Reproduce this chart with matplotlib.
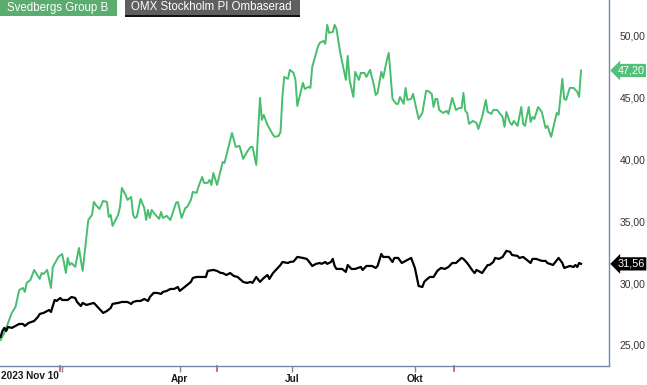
import matplotlib.pyplot as plt
import matplotlib.transforms as mtransforms
from matplotlib.patches import Rectangle

plt.rcParams['font.family'] = ['Liberation Sans', 'DejaVu Sans']

# trading-day index (0 = 2023 Nov 10) and closing values
green_days = [0, 2, 4, 6, 8, 10, 12, 13, 14, 16, 18, 19, 21, 22, 23, 25, 26, 27, 28, 31,
              33, 34, 35, 36, 37, 38, 40, 42, 43, 44, 47, 49, 50, 51, 53, 55, 57, 58, 59, 60,
              63, 64, 65, 67, 68, 70, 71, 72, 73, 75, 77, 78, 79, 80, 81, 83, 85, 86, 87, 89,
              91, 94, 95, 97, 99, 100, 102, 103, 105, 106, 108, 109, 111, 112, 113, 114, 116, 119, 120, 124,
              125, 126, 128, 130, 132, 134, 135, 137, 139, 140, 141, 143, 146, 147, 149, 150, 151, 152, 154, 155,
              157, 158, 159, 162, 163, 165, 166, 167, 170, 171, 173, 174, 175, 176, 178, 179, 180, 182, 185, 186,
              187, 189, 190, 192, 193, 195, 196, 198, 200, 201, 202, 204, 205, 207, 208, 210, 212, 213, 214, 216,
              217, 218, 220, 221, 224, 226, 228, 229, 231, 232, 233, 234, 235, 237, 239, 240, 242, 244, 246, 247,
              248, 249, 250, 251, 253, 255, 256, 258, 260, 261, 263, 264, 266, 269, 270, 271, 273, 274, 275, 277,
              279, 280, 281, 283, 284, 285, 286, 288, 290, 292, 293, 295, 298, 299, 301, 302, 303, 305, 307, 309,
              310, 311]
green_vals = [25.40, 25.97, 26.78, 27.59, 28.07, 29.45, 29.61, 29.29, 30.02, 30.26, 31.07, 30.82, 30.34, 30.82, 30.74, 31.07, 30.34, 29.61, 31.31, 32.12,
              32.36, 31.63, 30.82, 32.04, 31.47, 31.63, 31.31, 32.85, 31.88, 30.99, 35.11, 35.52, 36.57, 36.33, 36.00, 36.65, 36.57, 35.35, 35.52, 34.63,
              35.52, 36.16, 37.70, 37.13, 36.73, 36.97, 35.52, 35.27, 35.35, 36.81, 36.08, 35.11, 35.92, 35.27, 35.92, 35.52, 35.20, 35.76, 35.27, 35.44,
              35.11, 36.49, 36.57, 35.27, 36.08, 36.16, 36.73, 37.38, 37.30, 37.78, 38.59, 38.11, 38.11, 38.35, 37.94, 38.91, 37.94, 39.80, 39.72, 42.15,
              41.58, 41.02, 41.10, 40.05, 40.61, 41.02, 41.02, 39.56, 44.98, 43.20, 43.61, 42.80, 41.99, 41.83, 41.91, 42.23, 45.06, 46.68, 46.52, 47.25,
              47.00, 46.44, 44.33, 46.20, 45.71, 45.87, 45.79, 47.49, 49.11, 49.43, 49.59, 49.35, 50.89, 50.24, 50.32, 50.89, 50.56, 48.62, 46.44, 48.38,
              46.44, 45.06, 47.09, 46.44, 47.00, 47.00, 46.68, 47.25, 46.03, 45.22, 45.39, 47.09, 46.60, 48.06, 48.62, 44.90, 44.50, 44.50, 45.06, 44.50,
              45.79, 44.82, 44.90, 45.31, 43.28, 43.77, 45.55, 45.55, 45.31, 44.25, 44.90, 44.90, 44.01, 43.77, 43.93, 43.69, 44.98, 44.01, 44.17, 44.17,
              45.39, 43.93, 43.77, 42.88, 43.12, 42.96, 42.47, 43.44, 44.82, 43.85, 43.69, 44.01, 44.01, 43.44, 42.64, 43.85, 42.96, 42.80, 43.12, 42.72,
              44.25, 42.88, 42.72, 44.25, 43.04, 43.44, 43.28, 44.25, 43.85, 42.55, 42.72, 41.83, 43.77, 43.61, 46.52, 44.90, 44.82, 45.79, 45.79, 45.47,
              45.06, 47.20]

black_days = [0, 1, 2, 3, 4, 6, 8, 10, 12, 13, 15, 18, 20, 21, 23, 25, 26, 27, 29, 30,
              32, 33, 36, 38, 40, 41, 43, 44, 46, 48, 50, 52, 54, 55, 57, 59, 60, 63, 65, 68,
              70, 71, 73, 75, 77, 79, 80, 82, 84, 86, 87, 89, 91, 93, 95, 96, 98, 100, 102, 103,
              105, 107, 109, 110, 111, 114, 116, 118, 119, 121, 123, 125, 127, 130, 132, 134, 135, 137, 139, 141,
              143, 144, 146, 148, 150, 151, 154, 155, 157, 159, 162, 164, 165, 167, 169, 171, 172, 174, 175, 177,
              178, 179, 180, 183, 185, 186, 188, 190, 193, 194, 196, 199, 201, 202, 204, 205, 208, 210, 211, 213,
              215, 217, 218, 220, 222, 224, 226, 227, 228, 230, 232, 234, 236, 238, 240, 242, 244, 247, 248, 250,
              253, 254, 255, 258, 261, 262, 264, 265, 267, 269, 271, 273, 274, 277, 278, 280, 282, 284, 285, 287,
              290, 292, 293, 296, 299, 301, 302, 305, 307, 308, 309, 310, 311]
black_vals = [25.65, 26.13, 26.38, 26.13, 26.46, 26.38, 26.54, 26.70, 26.70, 26.54, 26.78, 26.94, 27.27, 27.51, 27.59, 27.75, 27.83, 27.67, 28.64, 28.56,
              28.80, 28.64, 28.64, 28.88, 28.80, 28.48, 28.15, 28.40, 28.24, 28.32, 28.40, 28.07, 27.75, 27.59, 27.75, 27.99, 28.32, 28.40, 28.48, 28.48,
              28.32, 28.48, 28.56, 28.56, 28.72, 28.56, 28.88, 29.21, 29.21, 29.13, 29.29, 29.37, 29.53, 29.53, 29.69, 29.37, 29.61, 29.85, 30.10, 30.42,
              30.50, 30.50, 30.50, 30.50, 30.99, 31.07, 30.99, 30.82, 30.82, 30.66, 30.82, 30.58, 30.50, 30.10, 30.02, 30.10, 30.02, 30.50, 30.10, 30.42,
              30.66, 30.34, 30.82, 31.15, 31.47, 31.71, 31.63, 31.71, 31.75, 32.12, 32.04, 31.96, 31.80, 31.39, 31.56, 31.63, 31.56, 31.71, 31.56, 31.71,
              31.96, 31.39, 31.15, 31.15, 30.91, 31.47, 31.15, 31.15, 31.31, 31.07, 31.39, 31.39, 31.23, 31.39, 32.36, 32.12, 32.12, 31.71, 32.04, 32.04,
              31.63, 31.80, 31.88, 32.04, 31.23, 29.77, 29.69, 30.10, 30.26, 30.50, 30.50, 30.99, 31.23, 31.15, 31.31, 31.63, 31.63, 32.04, 31.96, 31.63,
              30.99, 30.82, 31.07, 30.82, 31.47, 31.47, 31.71, 32.04, 31.96, 32.12, 32.61, 32.53, 32.28, 32.20, 32.04, 32.12, 31.88, 31.63, 31.96, 31.96,
              31.80, 31.80, 31.63, 31.47, 32.04, 31.63, 31.23, 31.39, 31.31, 31.47, 31.31, 31.63, 31.56]

green_name = 'Svedbergs Group B'
black_name = 'OMX Stockholm PI Ombaserad'
month_days = [96, 156, 222]
month_labels = ['Apr', 'Jul', 'Okt']
year_day = 33
event_days = [32, 116, 243]
y_ticks = [25, 30, 35, 40, 45, 50]

GREEN = '#48bd6e'
SPINE = '#6f8aa6'
W, H = 647, 385

fig = plt.figure(figsize=(W / 100, H / 100), dpi=100)
ax = fig.add_axes([0, 19 / H, 609 / W, 366 / H])

ax.plot(green_days, green_vals, color=GREEN, lw=1.4, solid_joinstyle='round')
ax.plot(black_days, black_vals, color='black', lw=1.6, solid_joinstyle='round')

ax.set_xlim(-0.3, 326)
ax.set_ylim(23.3, 52.9)

for s in ['top', 'left']:
    ax.spines[s].set_visible(False)
for s in ['right', 'bottom']:
    ax.spines[s].set_color(SPINE)
    ax.spines[s].set_linewidth(1.0)

ax.yaxis.tick_right()
ax.set_yticks(y_ticks)
ax.set_yticklabels([f'{v:.2f}'.replace('.', ',') for v in y_ticks])
ax.tick_params(axis='y', length=0, pad=7.5, labelsize=7.5, labelcolor='#333333')

ax.set_xticks([year_day] + month_days)
ax.set_xticklabels([''] + month_labels)
ax.tick_params(axis='x', length=4, width=1, color=SPINE, pad=2,
               labelsize=7.2, labelcolor='#1a1a1a')
for lab in ax.get_xticklabels():
    lab.set_fontweight('bold')

trans = mtransforms.blended_transform_factory(ax.transData, ax.transAxes)
ax.text(0, -0.015, '2023 Nov 10', transform=trans, ha='left', va='top',
        fontsize=7.2, fontweight='bold', color='#1a1a1a')
for d in event_days:
    ax.plot([d, d], [0, -0.014], transform=trans, color='#e0405a', lw=1.2, clip_on=False)


def px_rect(x0, y0, x1, y1, color):
    # rectangle in figure pixels measured from the top-left corner
    fig.patches.append(Rectangle((x0 / W, 1 - y1 / H), (x1 - x0) / W, (y1 - y0) / H,
                                 transform=fig.transFigure, fc=color, ec='none', zorder=5))


# legend boxes at top left
px_rect(0, 0, 117, 16, '#5aad6e')
px_rect(125, 0, 300, 14.5, '#5f5f5f')
px_rect(125, 14.5, 300, 16.5, '#111111')
fig.text(7 / W, 1 - 8 / H, green_name, ha='left', va='center', fontsize=8.3,
         color='white', zorder=6)
fig.text(131 / W, 1 - 7.5 / H, black_name, ha='left', va='center', fontsize=8.3,
         color='white', zorder=6)

# last-price tags on the right axis
for val, col in [(green_vals[-1], '#52c078'), (black_vals[-1], 'black')]:
    ax.annotate(f'{val:.2f}'.replace('.', ','), xy=(1, val),
                xycoords=('axes fraction', 'data'), xytext=(6, 0),
                textcoords='offset points', ha='left', va='center',
                fontsize=7.8, color='white', annotation_clip=False,
                bbox=dict(boxstyle='larrow,pad=0.15', fc=col, ec='none'))

fig.savefig('out.png', dpi=100)
